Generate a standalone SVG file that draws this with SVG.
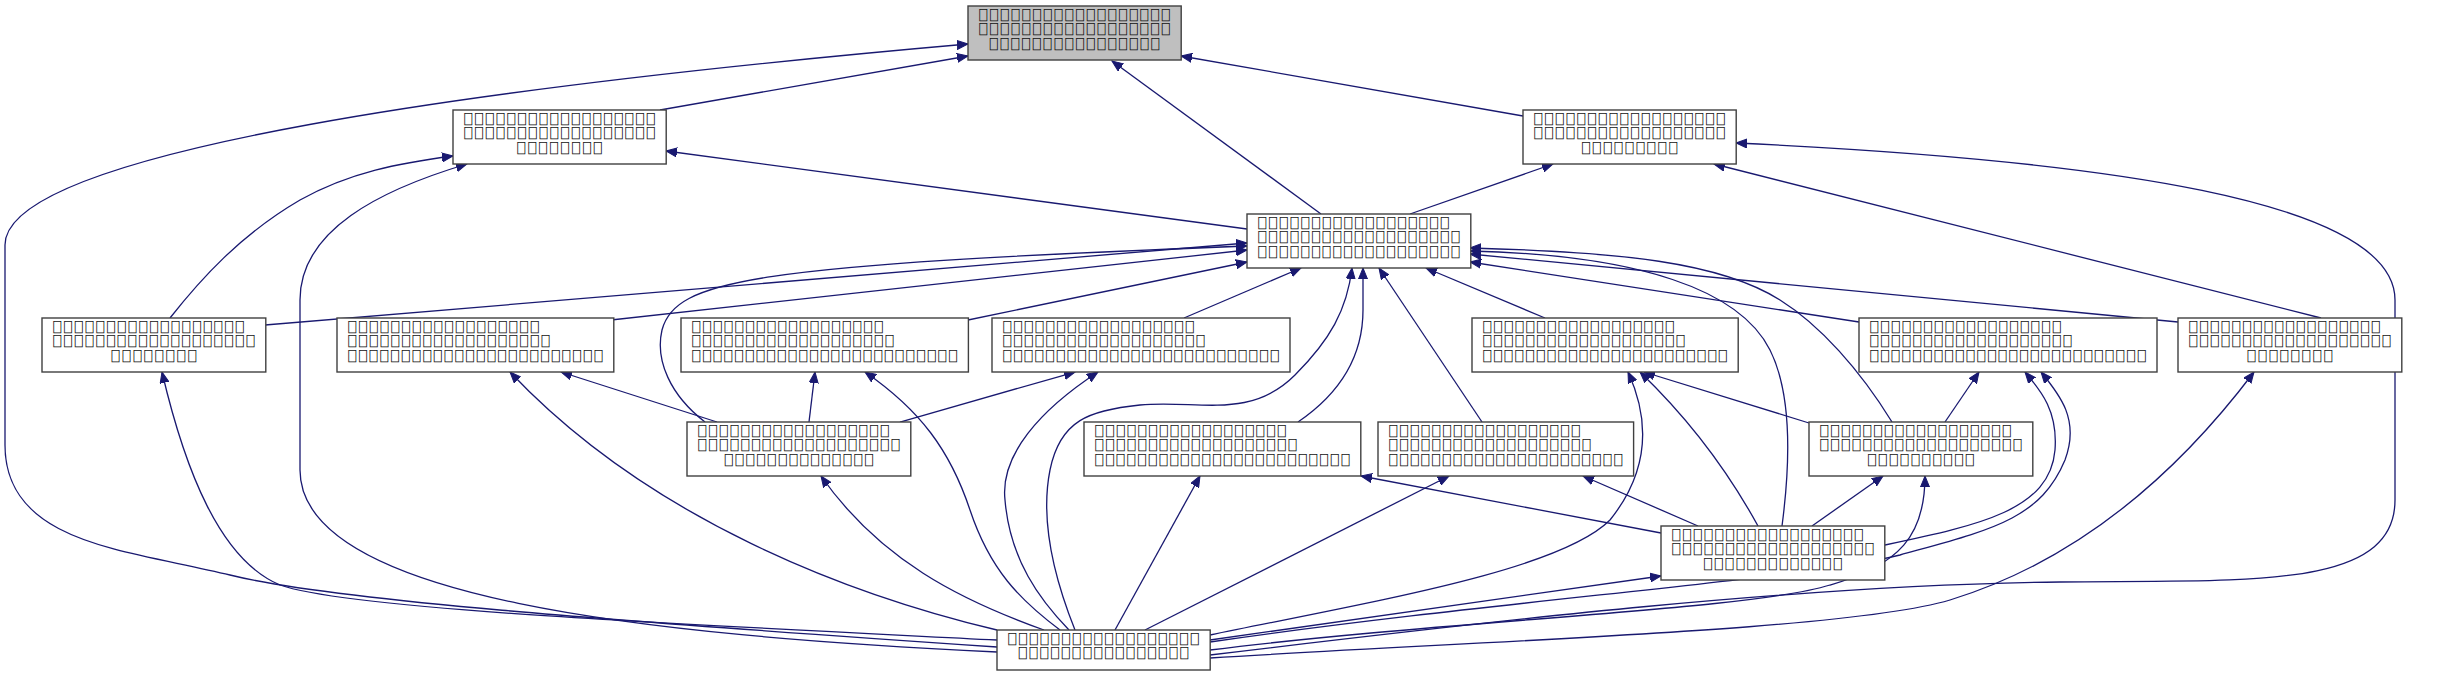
<svg xmlns="http://www.w3.org/2000/svg" width="2443" height="676" viewBox="0 0 2443 676">
<style>
.n{fill:#ffffff;stroke:#404040;stroke-width:1.4}
.r{fill:#bfbfbf;stroke:#404040;stroke-width:1.4}
.t{font-family:"DejaVu Sans Mono",monospace;font-size:13.5px;fill:#111}
.m{text-anchor:middle}
.e{fill:none;stroke:#191970;stroke-width:1.3;marker-end:url(#a)}
</style>
<defs>
<marker id="a" markerUnits="userSpaceOnUse" markerWidth="12" markerHeight="10" refX="11" refY="5" orient="auto"><path d="M0,0.5 L11,5 L0,9.5 z" fill="#191970" stroke="#191970"/></marker>
</defs>
<rect width="2443" height="676" fill="#ffffff"/>
<g id="connectors">
<path class="e" d="M660,110 L968,56"/>
<path class="e" d="M1321,214 L1112,61"/>
<path class="e" d="M1523,116 L1181,56"/>
<path class="e" d="M997,647 C600,620 330,600 230,575 C130,550 5,545 5,445 L5,245 C5,150 500,85 968,44"/>
<path class="e" d="M1247,229 L666,151"/>
<path class="e" d="M170,318 C200,280 240,235 300,200 C350,172 400,163 453,156"/>
<path class="e" d="M997,652 C650,635 300,600 300,470 L300,300 C300,230 380,190 467,164"/>
<path class="e" d="M1410,214 L1553,164"/>
<path class="e" d="M2321,318 L1714,164"/>
<path class="e" d="M1210,655 C1500,620 1800,585 2060,582 C2250,580 2395,590 2395,500 L2395,300 C2395,200 2100,160 1736,143"/>
<path class="e" d="M265,325 L1247,243"/>
<path class="e" d="M611,320 L1247,250"/>
<path class="e" d="M968,320 L1247,262"/>
<path class="e" d="M1184,318 L1301,268"/>
<path class="e" d="M1545,318 L1426,268"/>
<path class="e" d="M1859,322 L1470,262"/>
<path class="e" d="M2178,322 L1470,254"/>
<path class="e" d="M705,422 C670,395 655,360 662,330 C675,280 750,265 1247,246"/>
<path class="e" d="M1892,422 C1860,370 1820,325 1780,300 C1720,262 1620,252 1470,248"/>
<path class="e" d="M1298,422 C1345,390 1363,350 1363,310 L1363,268"/>
<path class="e" d="M1482,422 L1379,268"/>
<path class="e" d="M1782,526 C1792,450 1790,390 1770,350 C1740,290 1640,255 1470,251"/>
<path class="e" d="M1075,630 C1055,580 1040,520 1050,470 C1060,420 1090,410 1140,405 C1200,400 1250,420 1295,375 C1330,340 1347,310 1352,268"/>
<path class="e" d="M997,640 C700,625 350,610 280,585 C220,560 185,470 162,372"/>
<path class="e" d="M997,630 C850,595 650,520 510,372"/>
<path class="e" d="M717,422 L561,372"/>
<path class="e" d="M809,422 L815,372"/>
<path class="e" d="M1060,630 C1020,600 990,570 970,510 C950,450 920,410 865,372"/>
<path class="e" d="M900,422 L1075,372"/>
<path class="e" d="M1069,630 C1040,600 1010,560 1005,500 C1000,455 1040,410 1098,372"/>
<path class="e" d="M1809,423 L1644,372"/>
<path class="e" d="M1758,526 C1730,475 1690,420 1640,372"/>
<path class="e" d="M1210,635 C1380,600 1560,570 1610,520 C1650,470 1650,420 1628,372"/>
<path class="e" d="M1945,422 L1979,372"/>
<path class="e" d="M1885,545 C1980,525 2050,510 2055,450 C2058,410 2040,390 2025,372"/>
<path class="e" d="M1210,642 C1500,600 1800,580 1900,555 C1990,530 2040,520 2065,460 C2080,420 2060,395 2041,372"/>
<path class="e" d="M1210,658 C1500,640 1850,630 1950,600 C2080,560 2180,470 2254,372"/>
<path class="e" d="M1044,630 C960,600 880,560 821,476"/>
<path class="e" d="M1661,533 L1361,476"/>
<path class="e" d="M1115,630 L1200,476"/>
<path class="e" d="M1145,630 L1449,476"/>
<path class="e" d="M1698,526 L1583,476"/>
<path class="e" d="M1812,526 L1883,476"/>
<path class="e" d="M1210,650 C1450,620 1750,610 1830,585 C1900,565 1925,535 1925,476"/>
<path class="e" d="M1210,640 L1661,576"/>
</g>
<g id="node0"><rect class="r" x="968" y="6" width="213.2" height="54"/>
<text class="t"><tspan x="979.2" y="19.5" textLength="190.8" lengthAdjust="spacing">⎕⎕⎕⎕⎕⎕⎕⎕⎕⎕⎕⎕⎕⎕⎕⎕⎕⎕</tspan><tspan x="979.2" y="34" textLength="190.8" lengthAdjust="spacing">⎕⎕⎕⎕⎕⎕⎕⎕⎕⎕⎕⎕⎕⎕⎕⎕⎕⎕</tspan><tspan class="m" x="1074.6" y="48.5" textLength="169.6" lengthAdjust="spacing">⎕⎕⎕⎕⎕⎕⎕⎕⎕⎕⎕⎕⎕⎕⎕⎕</tspan></text></g>
<g id="node1"><rect class="n" x="453" y="110" width="213.2" height="54"/>
<text class="t"><tspan x="464.2" y="123.5" textLength="190.8" lengthAdjust="spacing">⎕⎕⎕⎕⎕⎕⎕⎕⎕⎕⎕⎕⎕⎕⎕⎕⎕⎕</tspan><tspan x="464.2" y="138" textLength="190.8" lengthAdjust="spacing">⎕⎕⎕⎕⎕⎕⎕⎕⎕⎕⎕⎕⎕⎕⎕⎕⎕⎕</tspan><tspan class="m" x="559.6" y="152.5" textLength="84.8" lengthAdjust="spacing">⎕⎕⎕⎕⎕⎕⎕⎕</tspan></text></g>
<g id="node2"><rect class="n" x="1523" y="110" width="213.2" height="54"/>
<text class="t"><tspan x="1534.2" y="123.5" textLength="190.8" lengthAdjust="spacing">⎕⎕⎕⎕⎕⎕⎕⎕⎕⎕⎕⎕⎕⎕⎕⎕⎕⎕</tspan><tspan x="1534.2" y="138" textLength="190.8" lengthAdjust="spacing">⎕⎕⎕⎕⎕⎕⎕⎕⎕⎕⎕⎕⎕⎕⎕⎕⎕⎕</tspan><tspan class="m" x="1629.6" y="152.5" textLength="95.4" lengthAdjust="spacing">⎕⎕⎕⎕⎕⎕⎕⎕⎕</tspan></text></g>
<g id="node3"><rect class="n" x="1247" y="214" width="223.8" height="54"/>
<text class="t"><tspan x="1258.2" y="227.5" textLength="190.8" lengthAdjust="spacing">⎕⎕⎕⎕⎕⎕⎕⎕⎕⎕⎕⎕⎕⎕⎕⎕⎕⎕</tspan><tspan x="1258.2" y="242" textLength="201.4" lengthAdjust="spacing">⎕⎕⎕⎕⎕⎕⎕⎕⎕⎕⎕⎕⎕⎕⎕⎕⎕⎕⎕</tspan><tspan class="m" x="1358.9" y="256.5" textLength="201.4" lengthAdjust="spacing">⎕⎕⎕⎕⎕⎕⎕⎕⎕⎕⎕⎕⎕⎕⎕⎕⎕⎕⎕</tspan></text></g>
<g id="node4"><rect class="n" x="42" y="318" width="223.8" height="54"/>
<text class="t"><tspan x="53.2" y="331.5" textLength="190.8" lengthAdjust="spacing">⎕⎕⎕⎕⎕⎕⎕⎕⎕⎕⎕⎕⎕⎕⎕⎕⎕⎕</tspan><tspan x="53.2" y="346" textLength="201.4" lengthAdjust="spacing">⎕⎕⎕⎕⎕⎕⎕⎕⎕⎕⎕⎕⎕⎕⎕⎕⎕⎕⎕</tspan><tspan class="m" x="153.9" y="360.5" textLength="84.8" lengthAdjust="spacing">⎕⎕⎕⎕⎕⎕⎕⎕</tspan></text></g>
<g id="node5"><rect class="n" x="337" y="318" width="276.8" height="54"/>
<text class="t"><tspan x="348.2" y="331.5" textLength="190.8" lengthAdjust="spacing">⎕⎕⎕⎕⎕⎕⎕⎕⎕⎕⎕⎕⎕⎕⎕⎕⎕⎕</tspan><tspan x="348.2" y="346" textLength="201.4" lengthAdjust="spacing">⎕⎕⎕⎕⎕⎕⎕⎕⎕⎕⎕⎕⎕⎕⎕⎕⎕⎕⎕</tspan><tspan class="m" x="475.4" y="360.5" textLength="254.4" lengthAdjust="spacing">⎕⎕⎕⎕⎕⎕⎕⎕⎕⎕⎕⎕⎕⎕⎕⎕⎕⎕⎕⎕⎕⎕⎕⎕</tspan></text></g>
<g id="node6"><rect class="n" x="681" y="318" width="287.4" height="54"/>
<text class="t"><tspan x="692.2" y="331.5" textLength="190.8" lengthAdjust="spacing">⎕⎕⎕⎕⎕⎕⎕⎕⎕⎕⎕⎕⎕⎕⎕⎕⎕⎕</tspan><tspan x="692.2" y="346" textLength="201.4" lengthAdjust="spacing">⎕⎕⎕⎕⎕⎕⎕⎕⎕⎕⎕⎕⎕⎕⎕⎕⎕⎕⎕</tspan><tspan class="m" x="824.7" y="360.5" textLength="265" lengthAdjust="spacing">⎕⎕⎕⎕⎕⎕⎕⎕⎕⎕⎕⎕⎕⎕⎕⎕⎕⎕⎕⎕⎕⎕⎕⎕⎕</tspan></text></g>
<g id="node7"><rect class="n" x="992" y="318" width="298" height="54"/>
<text class="t"><tspan x="1003.2" y="331.5" textLength="190.8" lengthAdjust="spacing">⎕⎕⎕⎕⎕⎕⎕⎕⎕⎕⎕⎕⎕⎕⎕⎕⎕⎕</tspan><tspan x="1003.2" y="346" textLength="201.4" lengthAdjust="spacing">⎕⎕⎕⎕⎕⎕⎕⎕⎕⎕⎕⎕⎕⎕⎕⎕⎕⎕⎕</tspan><tspan class="m" x="1141" y="360.5" textLength="275.6" lengthAdjust="spacing">⎕⎕⎕⎕⎕⎕⎕⎕⎕⎕⎕⎕⎕⎕⎕⎕⎕⎕⎕⎕⎕⎕⎕⎕⎕⎕</tspan></text></g>
<g id="node8"><rect class="n" x="1472" y="318" width="266.2" height="54"/>
<text class="t"><tspan x="1483.2" y="331.5" textLength="190.8" lengthAdjust="spacing">⎕⎕⎕⎕⎕⎕⎕⎕⎕⎕⎕⎕⎕⎕⎕⎕⎕⎕</tspan><tspan x="1483.2" y="346" textLength="201.4" lengthAdjust="spacing">⎕⎕⎕⎕⎕⎕⎕⎕⎕⎕⎕⎕⎕⎕⎕⎕⎕⎕⎕</tspan><tspan class="m" x="1605.1" y="360.5" textLength="243.8" lengthAdjust="spacing">⎕⎕⎕⎕⎕⎕⎕⎕⎕⎕⎕⎕⎕⎕⎕⎕⎕⎕⎕⎕⎕⎕⎕</tspan></text></g>
<g id="node9"><rect class="n" x="1859" y="318" width="298" height="54"/>
<text class="t"><tspan x="1870.2" y="331.5" textLength="190.8" lengthAdjust="spacing">⎕⎕⎕⎕⎕⎕⎕⎕⎕⎕⎕⎕⎕⎕⎕⎕⎕⎕</tspan><tspan x="1870.2" y="346" textLength="201.4" lengthAdjust="spacing">⎕⎕⎕⎕⎕⎕⎕⎕⎕⎕⎕⎕⎕⎕⎕⎕⎕⎕⎕</tspan><tspan class="m" x="2008" y="360.5" textLength="275.6" lengthAdjust="spacing">⎕⎕⎕⎕⎕⎕⎕⎕⎕⎕⎕⎕⎕⎕⎕⎕⎕⎕⎕⎕⎕⎕⎕⎕⎕⎕</tspan></text></g>
<g id="node10"><rect class="n" x="2178" y="318" width="223.8" height="54"/>
<text class="t"><tspan x="2189.2" y="331.5" textLength="190.8" lengthAdjust="spacing">⎕⎕⎕⎕⎕⎕⎕⎕⎕⎕⎕⎕⎕⎕⎕⎕⎕⎕</tspan><tspan x="2189.2" y="346" textLength="201.4" lengthAdjust="spacing">⎕⎕⎕⎕⎕⎕⎕⎕⎕⎕⎕⎕⎕⎕⎕⎕⎕⎕⎕</tspan><tspan class="m" x="2289.9" y="360.5" textLength="84.8" lengthAdjust="spacing">⎕⎕⎕⎕⎕⎕⎕⎕</tspan></text></g>
<g id="node11"><rect class="n" x="687" y="422" width="223.8" height="54"/>
<text class="t"><tspan x="698.2" y="435.5" textLength="190.8" lengthAdjust="spacing">⎕⎕⎕⎕⎕⎕⎕⎕⎕⎕⎕⎕⎕⎕⎕⎕⎕⎕</tspan><tspan x="698.2" y="450" textLength="201.4" lengthAdjust="spacing">⎕⎕⎕⎕⎕⎕⎕⎕⎕⎕⎕⎕⎕⎕⎕⎕⎕⎕⎕</tspan><tspan class="m" x="798.9" y="464.5" textLength="148.4" lengthAdjust="spacing">⎕⎕⎕⎕⎕⎕⎕⎕⎕⎕⎕⎕⎕⎕</tspan></text></g>
<g id="node12"><rect class="n" x="1809" y="422" width="223.8" height="54"/>
<text class="t"><tspan x="1820.2" y="435.5" textLength="190.8" lengthAdjust="spacing">⎕⎕⎕⎕⎕⎕⎕⎕⎕⎕⎕⎕⎕⎕⎕⎕⎕⎕</tspan><tspan x="1820.2" y="450" textLength="201.4" lengthAdjust="spacing">⎕⎕⎕⎕⎕⎕⎕⎕⎕⎕⎕⎕⎕⎕⎕⎕⎕⎕⎕</tspan><tspan class="m" x="1920.9" y="464.5" textLength="106" lengthAdjust="spacing">⎕⎕⎕⎕⎕⎕⎕⎕⎕⎕</tspan></text></g>
<g id="node13"><rect class="n" x="1084" y="422" width="276.8" height="54"/>
<text class="t"><tspan x="1095.2" y="435.5" textLength="190.8" lengthAdjust="spacing">⎕⎕⎕⎕⎕⎕⎕⎕⎕⎕⎕⎕⎕⎕⎕⎕⎕⎕</tspan><tspan x="1095.2" y="450" textLength="201.4" lengthAdjust="spacing">⎕⎕⎕⎕⎕⎕⎕⎕⎕⎕⎕⎕⎕⎕⎕⎕⎕⎕⎕</tspan><tspan class="m" x="1222.4" y="464.5" textLength="254.4" lengthAdjust="spacing">⎕⎕⎕⎕⎕⎕⎕⎕⎕⎕⎕⎕⎕⎕⎕⎕⎕⎕⎕⎕⎕⎕⎕⎕</tspan></text></g>
<g id="node14"><rect class="n" x="1378" y="422" width="255.6" height="54"/>
<text class="t"><tspan x="1389.2" y="435.5" textLength="190.8" lengthAdjust="spacing">⎕⎕⎕⎕⎕⎕⎕⎕⎕⎕⎕⎕⎕⎕⎕⎕⎕⎕</tspan><tspan x="1389.2" y="450" textLength="201.4" lengthAdjust="spacing">⎕⎕⎕⎕⎕⎕⎕⎕⎕⎕⎕⎕⎕⎕⎕⎕⎕⎕⎕</tspan><tspan class="m" x="1505.8" y="464.5" textLength="233.2" lengthAdjust="spacing">⎕⎕⎕⎕⎕⎕⎕⎕⎕⎕⎕⎕⎕⎕⎕⎕⎕⎕⎕⎕⎕⎕</tspan></text></g>
<g id="node15"><rect class="n" x="1661" y="526" width="223.8" height="54"/>
<text class="t"><tspan x="1672.2" y="539.5" textLength="190.8" lengthAdjust="spacing">⎕⎕⎕⎕⎕⎕⎕⎕⎕⎕⎕⎕⎕⎕⎕⎕⎕⎕</tspan><tspan x="1672.2" y="554" textLength="201.4" lengthAdjust="spacing">⎕⎕⎕⎕⎕⎕⎕⎕⎕⎕⎕⎕⎕⎕⎕⎕⎕⎕⎕</tspan><tspan class="m" x="1772.9" y="568.5" textLength="137.8" lengthAdjust="spacing">⎕⎕⎕⎕⎕⎕⎕⎕⎕⎕⎕⎕⎕</tspan></text></g>
<g id="node16"><rect class="n" x="997" y="630" width="213.2" height="40"/>
<text class="t"><tspan x="1008.2" y="643.5" textLength="190.8" lengthAdjust="spacing">⎕⎕⎕⎕⎕⎕⎕⎕⎕⎕⎕⎕⎕⎕⎕⎕⎕⎕</tspan><tspan class="m" x="1103.6" y="658" textLength="169.6" lengthAdjust="spacing">⎕⎕⎕⎕⎕⎕⎕⎕⎕⎕⎕⎕⎕⎕⎕⎕</tspan></text></g>
</svg>
